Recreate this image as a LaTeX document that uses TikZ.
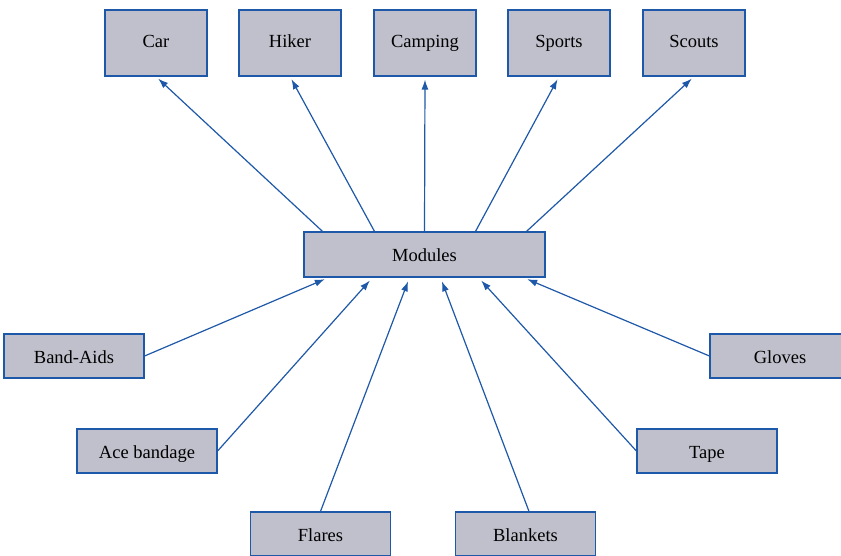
\documentclass[tikz,border=0pt]{standalone}
\usepackage{fontspec}
\setmainfont{Liberation Serif}
\usetikzlibrary{arrows.meta,calc}
\definecolor{boxfill}{RGB}{192,192,204}
\definecolor{boxline}{RGB}{30,88,168}
\begin{document}
\begin{tikzpicture}[x=1pt,y=-1pt,
  box/.style={draw=boxline,fill=boxfill,line width=1.2pt,inner sep=0pt,
    font=\fontsize{18.5}{21}\selectfont,text height=17pt,text depth=3pt},
  topbox/.style={box,minimum width=102pt,minimum height=66pt,text height=12.5pt,text depth=4pt},
  leaf/.style={box,minimum width=140pt,minimum height=44pt},
  conn/.style={draw=boxline,line width=1.2pt,-{Latex[length=10pt,width=7pt]}}]
\useasboundingbox (0,0) rectangle (841,556);
\node[topbox] (car) at (156,43) {Car};
\node[topbox] (hiker) at (290,43) {Hiker};
\node[topbox] (camping) at (425,43) {Camping};
\node[topbox] (sports) at (559,43) {Sports};
\node[topbox] (scouts) at (694,43) {Scouts};
\node[box,minimum width=241pt,minimum height=45pt] (m) at (424.5,254.5) {Modules};
\node[leaf] (band) at (74,356) {Band-Aids};
\node[leaf] (gloves) at (780,356) {Gloves};
\node[leaf] (ace) at (147,451) {Ace bandage};
\node[leaf] (tape) at (707,451) {Tape};
\node[leaf] (flares) at (320.5,534) {Flares};
\node[leaf] (blankets) at (525.5,534) {Blankets};
% top connectors
\coordinate (t1) at ($(m.north)+(-102,0)$);
\coordinate (t2) at ($(m.north)+(-50,0)$);
\coordinate (t3) at (m.north);
\coordinate (t4) at ($(m.north)+(51,0)$);
\coordinate (t5) at ($(m.north)+(102,0)$);
\draw[conn,shorten >=3pt] (t1) -- (car.south);
\draw[conn,shorten >=3pt] (t2) -- (hiker.south);
\draw[conn,shorten >=3pt] (t3) -- (camping.south);
\draw[conn,shorten >=3pt] (t4) -- (sports.south);
\draw[conn,shorten >=3pt] (t5) -- (scouts.south);
% bottom connectors
\coordinate (b1) at ($(m.south)+(-96,0)$);
\coordinate (b2) at ($(m.south)+(-52,0)$);
\coordinate (b3) at ($(m.south)+(-15,0)$);
\coordinate (b4) at ($(m.south)+(16,0)$);
\coordinate (b5) at ($(m.south)+(54,0)$);
\coordinate (b6) at ($(m.south)+(99,0)$);
\coordinate (fb) at ($(blankets.north)+(3.5,0)$);
\draw[conn,shorten >=4pt] (band.east) -- (b1);
\draw[conn,shorten >=4pt] (ace.east) -- (b2);
\draw[conn,shorten >=4pt] (flares.north) -- (b3);
\draw[conn,shorten >=4pt] (fb) -- (b4);
\draw[conn,shorten >=4pt] (tape.west) -- (b5);
\draw[conn,shorten >=4pt] (gloves.west) -- (b6);
\end{tikzpicture}
\end{document}
